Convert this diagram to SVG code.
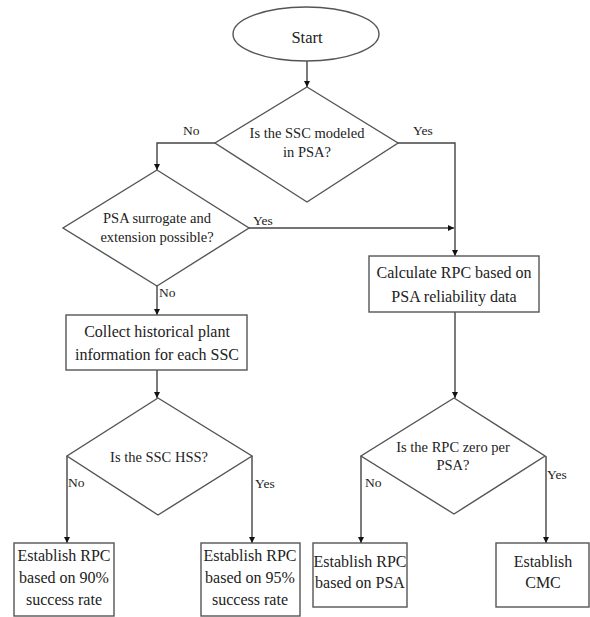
<svg xmlns="http://www.w3.org/2000/svg" width="590" height="617" viewBox="0 0 590 617">
  <style>
    .shape { fill: #ffffff; stroke: #555555; stroke-width: 1.4; }
    .line { fill: none; stroke: #444444; stroke-width: 1.4; }
    text { font-family: "Liberation Serif", "Noto Serif", Tinos, "Times New Roman", Times, "DejaVu Serif", serif; fill: #222222; text-anchor: middle; }
    .q { font-size: 14.5px; }
    .b { font-size: 16px; }
    .lbl { font-size: 13.5px; text-anchor: start; }
  </style>
  <defs>
    <marker id="arrow" viewBox="0 0 10 10" refX="10" refY="5" markerWidth="6.5" markerHeight="6.5" markerUnits="userSpaceOnUse" orient="auto">
      <path d="M0,0 L10,5 L0,10 z" fill="#111111"/>
    </marker>
  </defs>

  <rect width="590" height="617" fill="#ffffff"/>

  <!-- connectors -->
  <g id="connectors">
    <path class="line" d="M307,61 V87" marker-end="url(#arrow)"/>
    <path class="line" d="M215,143 H157 V170" marker-end="url(#arrow)"/>
    <path class="line" d="M398,143 H455 V256" marker-end="url(#arrow)"/>
    <path class="line" d="M249,228 H454" marker-end="url(#arrow)"/>
    <path class="line" d="M157,286 V315" marker-end="url(#arrow)"/>
    <path class="line" d="M157,370 V398" marker-end="url(#arrow)"/>
    <path class="line" d="M455,312 V398" marker-end="url(#arrow)"/>
    <path class="line" d="M67,456 V543" marker-end="url(#arrow)"/>
    <path class="line" d="M252,456 V543" marker-end="url(#arrow)"/>
    <path class="line" d="M361,456 V543" marker-end="url(#arrow)"/>
    <path class="line" d="M546,456 V543" marker-end="url(#arrow)"/>
    <text class="lbl" x="183" y="135">No</text>
    <text class="lbl" x="413" y="135">Yes</text>
    <text class="lbl" x="253" y="225">Yes</text>
    <text class="lbl" x="159" y="297">No</text>
    <text class="lbl" x="68" y="487">No</text>
    <text class="lbl" x="255" y="488">Yes</text>
    <text class="lbl" x="365" y="487">No</text>
    <text class="lbl" x="547" y="479">Yes</text>
  </g>

  <g id="start">
    <ellipse class="shape" cx="306" cy="34" rx="73" ry="27"/>
    <text x="307" y="43" style="font-size:16.5px">Start</text>
  </g>

  <g id="q-modeled">
    <polygon class="shape" points="307,87 398,143 307,202 215,143"/>
    <text class="q" x="307" y="138">Is the SSC modeled</text>
    <text class="q" x="307" y="157">in PSA?</text>
  </g>

  <g id="q-surrogate">
    <polygon class="shape" points="157,170 249,228 157,286 63,228"/>
    <text class="q" x="157" y="223">PSA surrogate and</text>
    <text class="q" x="157" y="242">extension possible?</text>
  </g>

  <g id="calc-rpc">
    <rect class="shape" x="369" y="256" width="170" height="56"/>
    <text class="b" x="454" y="278">Calculate RPC based on</text>
    <text class="b" x="454" y="302">PSA reliability  data</text>
  </g>

  <g id="collect">
    <rect class="shape" x="66" y="315" width="181" height="55"/>
    <text class="b" x="157" y="337">Collect historical plant</text>
    <text class="b" x="157" y="360">information  for each SSC</text>
  </g>

  <g id="q-hss">
    <polygon class="shape" points="158,398 252,456 158,515 67,456"/>
    <text class="q" x="159" y="462">Is the SSC HSS?</text>
  </g>

  <g id="q-zero">
    <polygon class="shape" points="454,398 545,456 454,514 361,456"/>
    <text class="q" x="453" y="452">Is the RPC zero per</text>
    <text class="q" x="453" y="470">PSA?</text>
  </g>

  <g id="rpc-90">
    <rect class="shape" x="14" y="543" width="100" height="73"/>
    <text class="b" x="64" y="561">Establish RPC</text>
    <text class="b" x="64" y="583">based on 90%</text>
    <text class="b" x="64" y="605">success rate</text>
  </g>

  <g id="rpc-95">
    <rect class="shape" x="201" y="543" width="99" height="73"/>
    <text class="b" x="250" y="561">Establish RPC</text>
    <text class="b" x="250" y="583">based on 95%</text>
    <text class="b" x="250" y="605">success rate</text>
  </g>

  <g id="rpc-psa">
    <rect class="shape" x="313" y="543" width="94" height="64"/>
    <text class="b" x="360" y="567">Establish RPC</text>
    <text class="b" x="360" y="588">based on PSA</text>
  </g>

  <g id="cmc">
    <rect class="shape" x="496" y="543" width="93" height="64"/>
    <text class="b" x="543" y="567">Establish</text>
    <text class="b" x="543" y="588">CMC</text>
  </g>
</svg>
